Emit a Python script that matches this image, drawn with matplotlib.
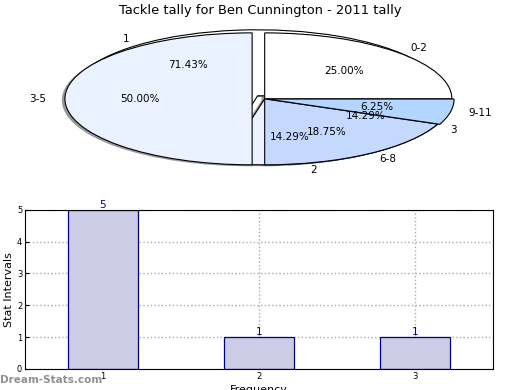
import matplotlib
matplotlib.use('Agg')
import matplotlib.pyplot as plt

# pie data
int_labels = ['0-2', '3-5', '6-8', '9-11']
int_counts = [4, 8, 3, 1]
freq_labels = ['1', '2', '3']
freq_counts = [5, 1, 1]
pie_colors = ['#FFFFFF', '#EBF2FF', '#C5D9FF', '#B3D5FF']

# bar data
bar_x = [1, 2, 3]
bar_vals = [5, 1, 1]

fig = plt.figure(figsize=(5.2, 3.9), dpi=100)

####################### PIE #######################
shad = dict(ox=-0.012, oy=-0.015, facecolor='#808080', edgecolor='none', alpha=0.8)
axp = fig.add_axes([0.059, 0.535, 0.9, 0.423])
axp.pie(freq_counts, labels=freq_labels, colors=pie_colors[:3],
        explode=[0.06, 0, 0], autopct='%.2f%%', shadow=shad,
        wedgeprops=dict(edgecolor='black', linewidth=0.8),
        textprops=dict(fontsize=7.5))
axp.pie(int_counts, labels=int_labels, colors=pie_colors,
        explode=[0, 0.067, 0, 0.012], autopct='%.2f%%', shadow=shad,
        wedgeprops=dict(edgecolor='black', linewidth=0.8),
        textprops=dict(fontsize=7.5))
axp.set_aspect('auto')
axp.set_xlim(-1.25, 1.25)
axp.set_ylim(-1.25, 1.25)
axp.set_axis_off()
fig.text(0.5, 0.972, 'Tackle tally for Ben Cunnington - 2011 tally',
         ha='center', va='center', fontsize=9.4)

####################### BAR #######################
axb = fig.add_axes([0.048, 0.054, 0.9, 0.408])
bars = axb.bar(bar_x, bar_vals, width=0.45, color='#CCCCE6',
               edgecolor='navy', linewidth=0.9, zorder=2)
for b, v in zip(bars, bar_vals):
    axb.text(b.get_x() + b.get_width() / 2, v, str(v), ha='center',
             va='bottom', color='navy', fontsize=7.5, zorder=3)
axb.set_xlim(0.5, 3.5)
axb.set_ylim(0, 5)
axb.set_xticks(bar_x)
axb.set_yticks(range(0, 6))
axb.tick_params(direction='in', labelsize=6, length=3, pad=2)
axb.grid(True, linestyle=':', color='#aaaaaa', linewidth=1, zorder=1)
axb.set_axisbelow(True)
axb.set_xlabel('Frequency', fontsize=8, labelpad=3)
axb.set_ylabel('Stat Intervals', fontsize=8, labelpad=2)

fig.text(0.0, 0.025, 'Dream-Stats.com', color='#909090', fontsize=7.5,
         fontweight='bold', ha='left', va='center')

plt.savefig('out.png', dpi=100)
